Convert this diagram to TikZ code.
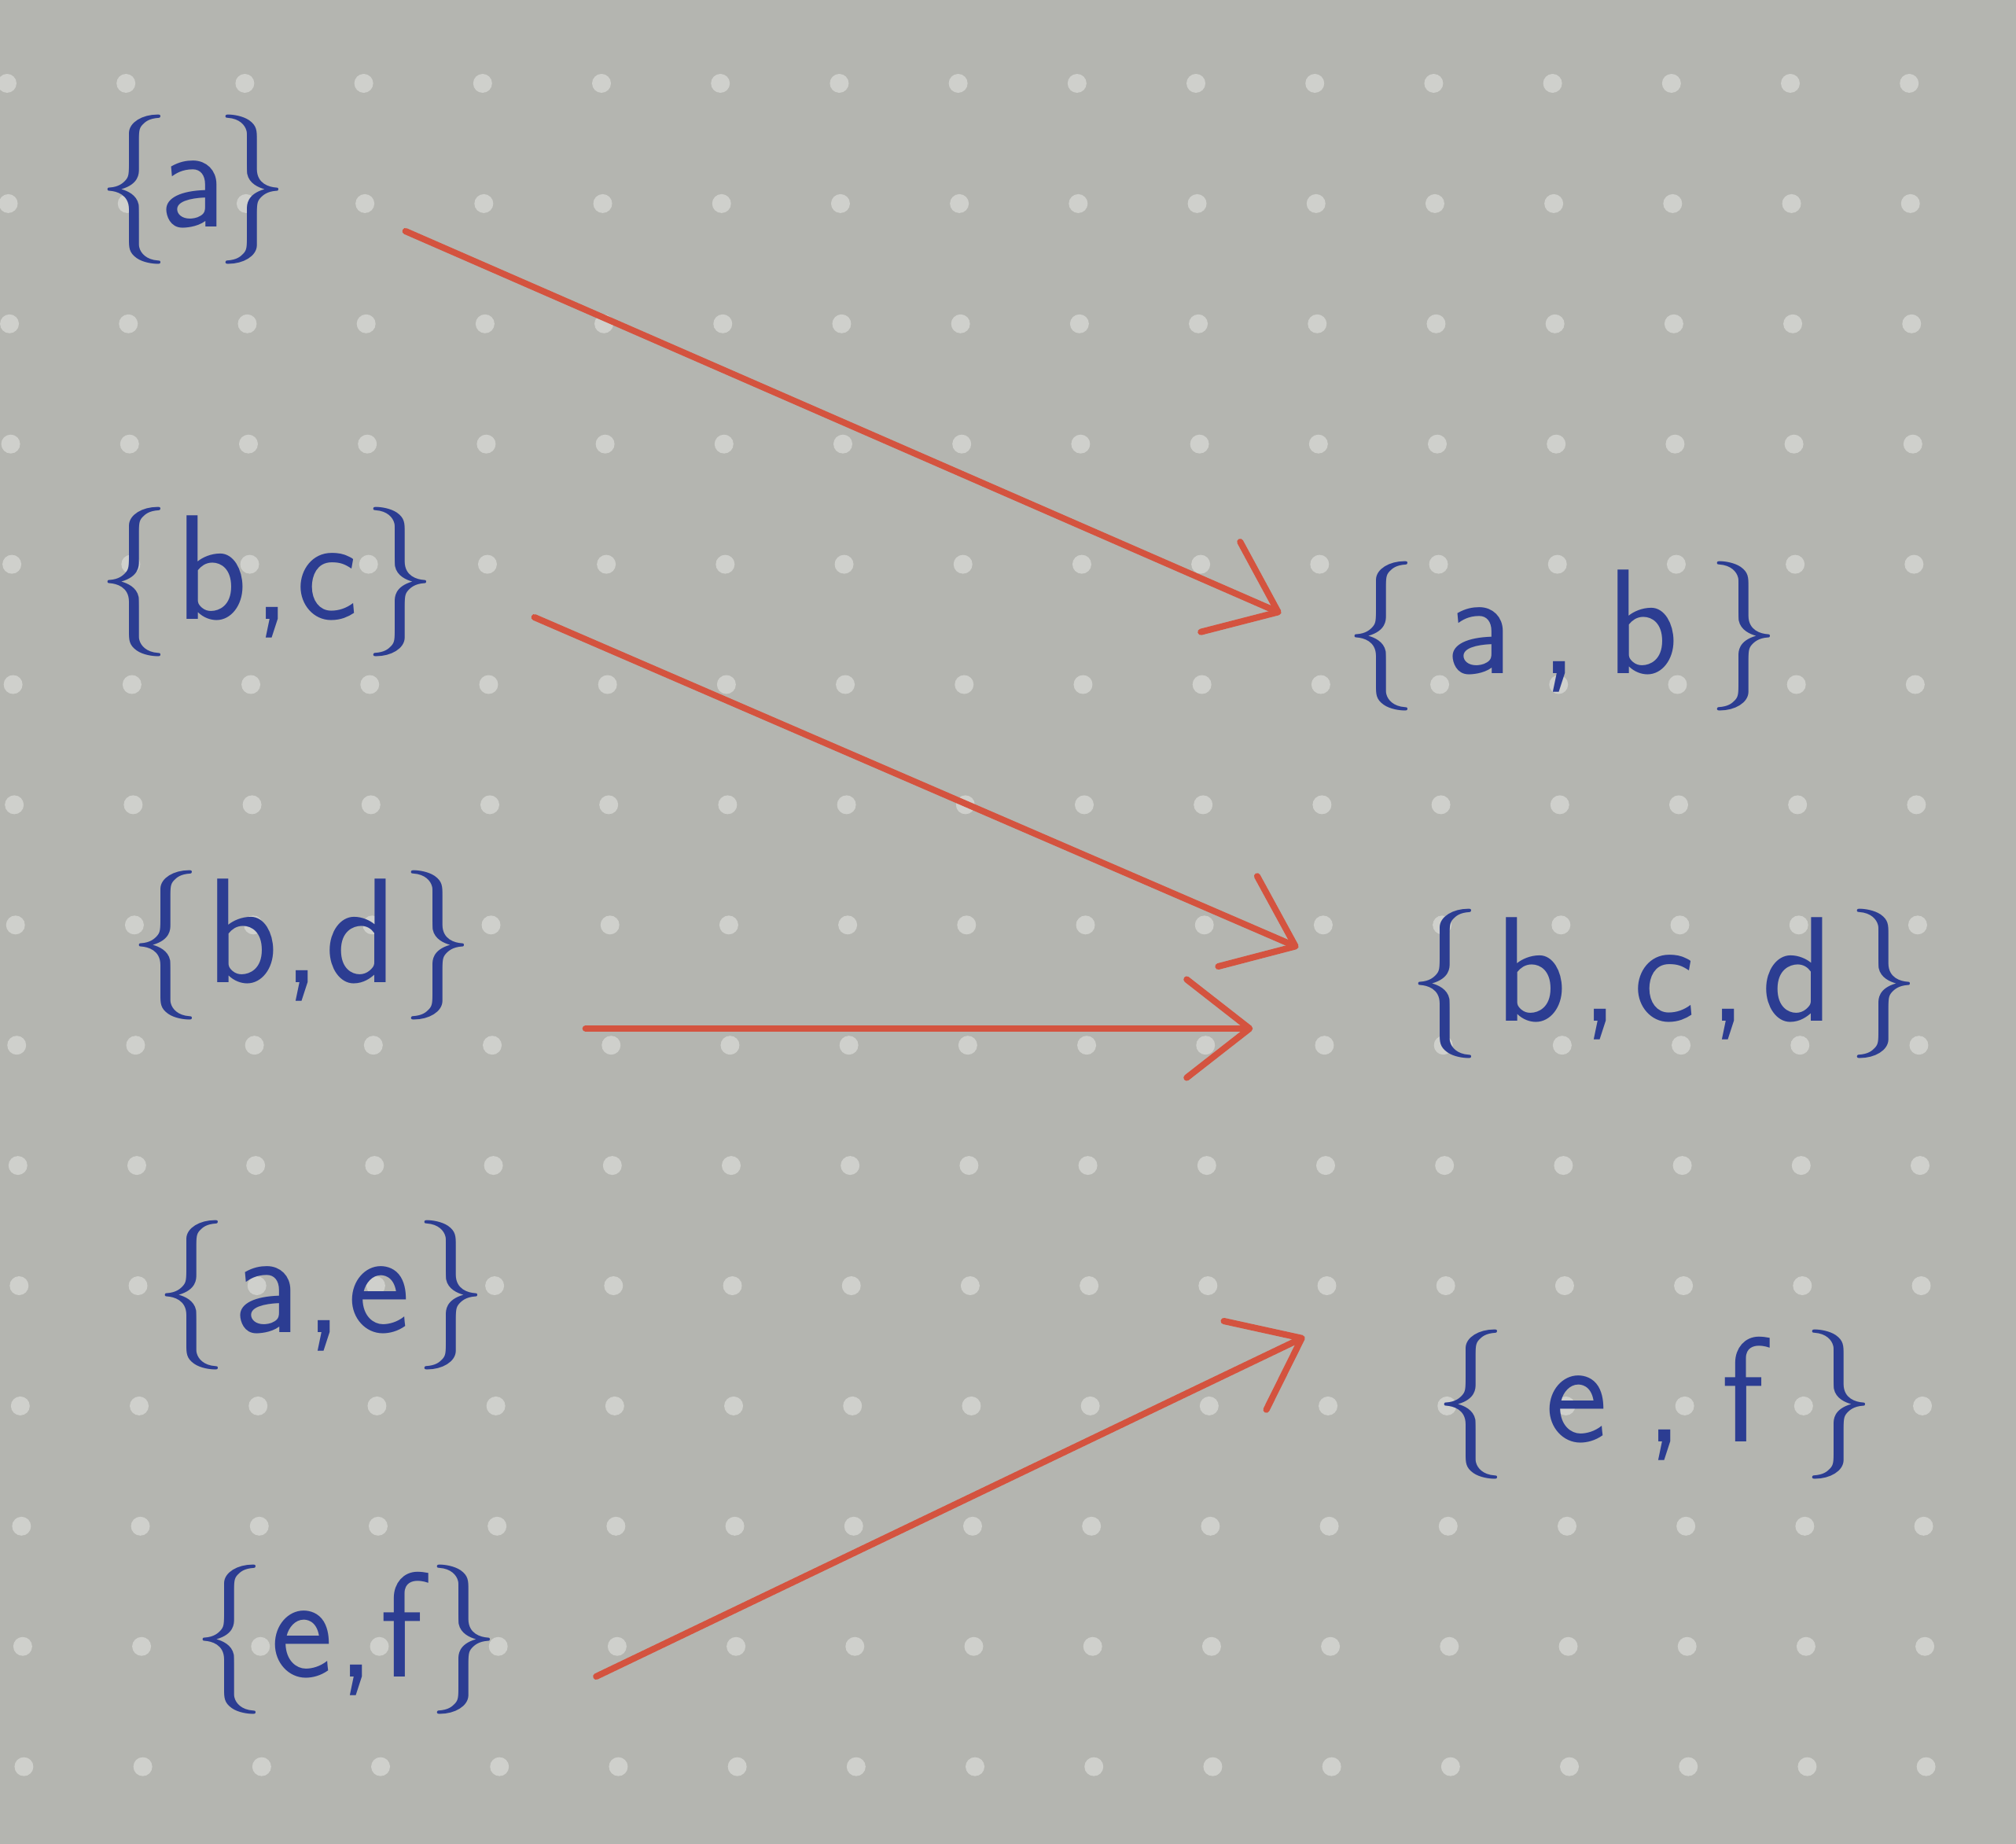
\documentclass[tikz,border=0pt]{standalone}
\usetikzlibrary{arrows.meta}
\definecolor{paper}{HTML}{B4B5B0}
\definecolor{paperdot}{HTML}{CFD0CC}
\definecolor{ink}{HTML}{2C3D92}
\definecolor{redink}{HTML}{D4533F}
\newcommand\gp{\hspace{0pt plus 1fill minus 0.3cm}}
\newcommand\hw[2]{\makebox[#1][s]{#2}}
\tikzset{
  setnode/.style={inner sep=0pt, text=ink, font=\sffamily\fontsize{54}{60}\selectfont},
  redarrow/.style={draw=redink, line width=2.3pt, line cap=round, line join=round,
    -{Straight Barb[length=0.8cm,width=1.25cm,line width=2.3pt,round]}},
  paperdotstyle/.style={fill=paperdot}
}
\begin{document}
\begin{tikzpicture}
\useasboundingbox (0,0) rectangle (25.64,-23.45);
\fill[paper] (0,0) rectangle (25.64,-23.45);
\foreach \i in {0,...,16}{
  \foreach \j in {0,...,14}{
    \fill[paperdotstyle] ({0.09+1.512*\i+0.0153*\j}, {-1.06-1.529*\j}) circle (0.12);
  }
}
% left column
\node[setnode] (la)  at (2.455,-2.41)  {\hw{2.45cm}{\{\gp a\gp\}}};
\node[setnode] (lbc) at (3.40,-7.40)   {\hw{4.33cm}{\{\gp b\gp,\gp c\gp\}}};
\node[setnode] (lbd) at (3.84,-12.02)  {\hw{4.41cm}{\{\gp b\gp,\gp d\gp\}}};
\node[setnode] (lae) at (4.09,-16.47)  {\hw{4.25cm}{\{\gp a\gp,\gp e\gp\}}};
\node[setnode] (lef) at (4.41,-20.85)  {\hw{3.93cm}{\{\gp e\gp,\gp f\gp\}}};
% right column
\node[setnode] (rab)  at (19.87,-8.09)  {\hw{5.56cm}{\{\gp a\gp,\gp b\gp\}}};
\node[setnode] (rbcd) at (21.17,-12.51) {\hw{6.54cm}{\{\gp b\gp,\gp c\gp,\gp d\gp\}}};
\node[setnode] (ref)  at (21.05,-17.86) {\hw{5.64cm}{\{\gp e\gp,\gp f\gp\}}};
% arrows
\draw[redarrow] ([shift={(1.47,-0.53)}]la.east) -- ([shift={(-0.79,0.29)}]rab.west);
\draw[redarrow] ([shift={(1.225,-0.45)}]lbc.east) -- ([shift={(-1.38,0.46)}]rbcd.west);
\draw[redarrow] ([shift={(1.395,-1.06)}]lbd.east) -- ([shift={(-1.96,-0.57)}]rbcd.west);
\draw[redarrow] ([shift={(1.2,-0.47)}]lef.east) -- ([shift={(-1.63,0.86)}]ref.west);
\end{tikzpicture}
\end{document}
